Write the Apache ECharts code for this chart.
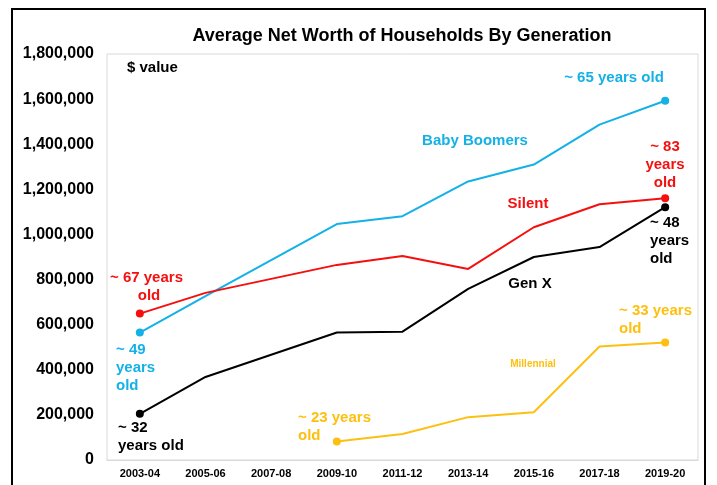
<!DOCTYPE html>
<html><head><meta charset="utf-8">
<script src="https://cdn.jsdelivr.net/npm/echarts@6/dist/echarts.min.js"></script>
<style>html,body{margin:0;padding:0;background:#fff}#c{width:717px;height:485px}</style>
</head><body><div id="c"></div>
<script>
const categories = ['2003-04','2005-06','2007-08','2009-10','2011-12','2013-14','2015-16','2017-18','2019-20'];
const babyBoomers = [565000, 726000, null, 1046000, 1081000, 1235000, 1310000, 1487000, 1593000];
const silent      = [649000, 741000, null, 865000, 904000, 847000, 1032000, 1134000, 1160000];
const genX        = [205000, 368000, null, 565000, 569000, 759000, 900000, 944000, 1121000];
const millennial  = [null, null, null, 82000, 115000, 190000, 212000, 503000, 521000];
const yTicks = {min: 0, max: 1800000, interval: 200000};

const FONT = '"Liberation Sans", Arial, sans-serif';
const BLUE = '#14B1E7', RED = '#F50F0F', BLACK = '#000000', GOLD = '#FDC010';

function endSymbol(data) {
  let first = data.findIndex(v => v != null);
  let last = data.length - 1;
  return function (val, params) {
    return (params.dataIndex === first || params.dataIndex === last) ? 8 : 0;
  };
}
function mkSeries(name, data, color) {
  return {
    name, type: 'line', data, connectNulls: true,
    symbol: 'circle', symbolSize: endSymbol(data), showSymbol: true,
    lineStyle: {color, width: 2}, itemStyle: {color},
    emphasis: {disabled: true}, z: 3
  };
}
function txt(x, y, text, color, size, align) {
  return {type: 'text', x, y, z: 10, style: {text, fill: color, font: 'bold ' + (size || 15) + 'px ' + FONT, textAlign: align || 'left', textVerticalAlign: 'middle'}};
}

const chart = echarts.init(document.getElementById('c'), null, {renderer: 'canvas'});
chart.setOption({
  animation: false,
  backgroundColor: '#fff',
  title: {text: 'Average Net Worth of Households By Generation', left: 397, top: 22, textAlign: 'center',
    textStyle: {fontFamily: FONT, fontWeight: 'bold', fontSize: 18, color: '#000'}},
  grid: {left: 107, right: 19, top: 54, bottom: 25, show: true, borderColor: '#d9d9d9', borderWidth: 1, backgroundColor: 'transparent'},
  xAxis: {type: 'category', data: categories, boundaryGap: true,
    axisLine: {lineStyle: {color: '#d9d9d9'}}, axisTick: {show: false},
    axisLabel: {fontFamily: FONT, fontWeight: 'bold', fontSize: 11, color: '#000', margin: 8}},
  yAxis: {type: 'value', min: yTicks.min, max: yTicks.max, interval: yTicks.interval,
    axisLine: {show: false}, axisTick: {show: false}, splitLine: {show: false},
    axisLabel: {fontFamily: FONT, fontWeight: 'bold', fontSize: 16, color: '#000', margin: 13,
      formatter: v => v.toLocaleString('en-US')}},
  series: [
    mkSeries('Baby Boomers', babyBoomers, BLUE),
    mkSeries('Silent', silent, RED),
    mkSeries('Gen X', genX, BLACK),
    mkSeries('Millennial', millennial, GOLD)
  ],
  graphic: [
    {type: 'rect', shape: {x: 12, y: 9, width: 693, height: 490}, style: {fill: 'none', stroke: '#000', lineWidth: 2}, z: 20},
    txt(127, 68, '$ value', BLACK, 15),
    txt(614, 78, '~ 65 years old', BLUE, 15, 'center'),
    txt(475, 141, 'Baby Boomers', BLUE, 15, 'center'),
    txt(665, 147, '~ 83', RED, 15, 'center'),
    txt(665, 165, 'years', RED, 15, 'center'),
    txt(665, 183, 'old', RED, 15, 'center'),
    txt(528, 204, 'Silent', RED, 15, 'center'),
    txt(650, 223, '~ 48', BLACK, 15),
    txt(650, 241, 'years', BLACK, 15),
    txt(650, 259, 'old', BLACK, 15),
    txt(530, 284, 'Gen X', BLACK, 15, 'center'),
    txt(110, 278, '~ 67 years', RED, 15),
    txt(149, 296, 'old', RED, 15, 'center'),
    txt(116, 350, '~ 49', BLUE, 15),
    txt(116, 368, 'years', BLUE, 15),
    txt(116, 386, 'old', BLUE, 15),
    txt(118, 428, '~ 32', BLACK, 15),
    txt(118, 446, 'years old', BLACK, 15),
    txt(298, 418, '~ 23 years', GOLD, 15),
    txt(298, 436, 'old', GOLD, 15),
    txt(533, 364, 'Millennial', GOLD, 10, 'center'),
    txt(619, 311, '~ 33 years', GOLD, 15),
    txt(619, 329, 'old', GOLD, 15)
  ]
});
</script>
</body></html>
